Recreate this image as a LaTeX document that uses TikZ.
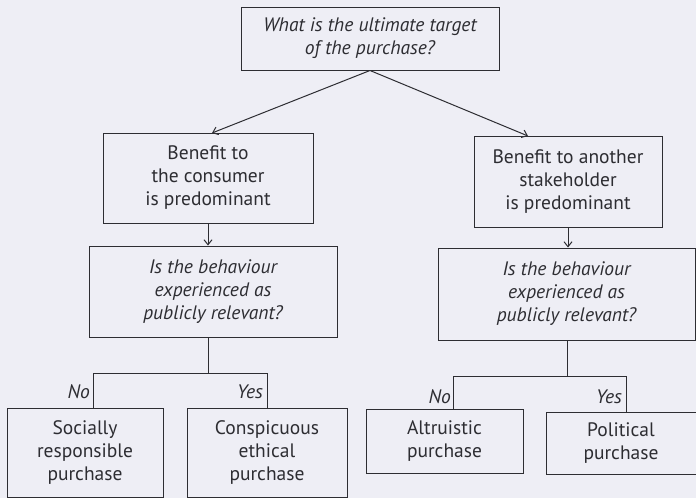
\documentclass[tikz,border=0pt]{standalone}
\usepackage{fontspec}
\setmainfont{PT Sans}
\usetikzlibrary{arrows.meta,calc}
\definecolor{bg}{RGB}{238,238,245}
\definecolor{ink}{RGB}{45,45,50}
\begin{document}
\begin{tikzpicture}[x=1pt,y=-1pt,
  box/.style={draw=ink,line width=1pt,text=ink,align=center,inner sep=0pt,
    font=\fontsize{19.5}{23}\selectfont},
  qbox/.style={box,font=\fontsize{19.5}{23}\selectfont\itshape},
  conn/.style={draw=ink,line width=1pt},
  arr/.style={conn,-{Straight Barb[length=5pt,width=8pt]}},
  lab/.style={text=ink,anchor=east,inner sep=0pt,font=\fontsize{19.5}{20}\selectfont\itshape}]
\fill[bg] (0,0) rectangle (696,498);
\useasboundingbox (0,0) rectangle (696,498);
\node[qbox,minimum width=258pt,minimum height=63pt] (top) at (370,38.5) {What is the ultimate target\\of the purchase?};
\node[box,minimum width=210pt,minimum height=90pt] (b1) at (208,178) {Benefit to\\the consumer\\is predominant};
\node[qbox,minimum width=248pt,minimum height=91pt] (q1) at (213,291.5) {Is the behaviour\\experienced as\\publicly relevant?};
\node[box,minimum width=188pt,minimum height=91pt] (b2) at (568,181.5) {Benefit to another\\stakeholder\\ is predominant};
\node[qbox,minimum width=257pt,minimum height=92pt] (q2) at (566.5,294) {Is the behaviour\\experienced as\\publicly relevant?};
\node[box,minimum width=156pt,minimum height=89pt] (srp) at (85,452.5) {Socially\\responsible\\purchase};
\node[box,minimum width=160pt,minimum height=89pt] (cep) at (267,452.5) {Conspicuous\\ethical\\purchase};
\node[box,minimum width=157pt,minimum height=64pt] (alt) at (444.5,441) {Altruistic\\purchase};
\node[box,minimum width=150pt,minimum height=62pt] (pol) at (621,443) {Political\\purchase};
\draw[arr] (top.south) -- (212,133);
\draw[arr] (top.south) -- (528,136);
\draw[arr] (b1.south) -- (b1.south |- q1.north);
\draw[arr] (b2.south) -- (b2.south |- q2.north);
% left split
\coordinate (lj) at (208,373);
\draw[conn] (q1.south -| lj) -- (lj);
\draw[conn] (93,408) -- (93,373) -- (267,373) -- (267,408);
\node[lab] (no1) at (90,392) {No};
\node[lab] (yes1) at (263,392) {Yes};
% right split
\coordinate (rj) at (567,376);
\draw[conn] (q2.south -| rj) -- (rj);
\draw[conn] (453,409) -- (453,376) -- (626,376) -- (626,412);
\node[lab] (no2) at (451,397) {No};
\node[lab] (yes2) at (622,397) {Yes};
\end{tikzpicture}
\end{document}
